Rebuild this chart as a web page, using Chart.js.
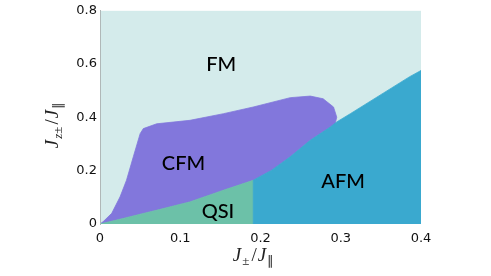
<!DOCTYPE html>
<html lang="en">
<head>
    <meta charset="UTF-8">
    <script src="https://cdn.jsdelivr.net/npm/chart.js"></script>
    <style>
        html, body { margin: 0; padding: 0; background: #fff; }
        #wrap { width: 491px; height: 276px; }
    </style>
</head>
<body>
    <div id="wrap"><canvas id="chart"></canvas></div>

    <script>
        // axis ticks
        const xTicks = [0, 0.1, 0.2, 0.3, 0.4];
        const yTicks = [0, 0.2, 0.4, 0.6, 0.8];

        // phase boundaries
        // CFM outer edge: from the origin up the left side, across the top, round the right end
        const cfmEdgeX = [0, 0.004, 0.0146, 0.025, 0.033, 0.0415, 0.05, 0.054, 0.0707, 0.112, 0.154, 0.191, 0.237, 0.262, 0.278, 0.291, 0.295, 0.293];
        const cfmEdgeY = [0, 0.009, 0.040, 0.102, 0.164, 0.252, 0.339, 0.358, 0.376, 0.389, 0.414, 0.439, 0.474, 0.480, 0.470, 0.439, 0.401, 0.376];
        // CFM / QSI edge
        const qsiEdgeX = [0, 0.029, 0.0707, 0.112, 0.154, 0.191];
        const qsiEdgeY = [0, 0.021, 0.052, 0.083, 0.127, 0.164];
        // top edge of AFM
        const afmEdgeX = [0.191, 0.214, 0.237, 0.262, 0.287, 0.295, 0.312, 0.345, 0.386, 0.4];
        const afmEdgeY = [0.164, 0.202, 0.252, 0.314, 0.364, 0.383, 0.414, 0.476, 0.553, 0.576];

        // phase labels
        const phaseNames = ['FM', 'CFM', 'QSI', 'AFM'];
        const labelX = [0.151, 0.104, 0.147, 0.303];
        const labelY = [0.597, 0.225, 0.046, 0.158];

        const colors = { FM: '#d4ebeb', CFM: '#8277dc', QSI: '#6cc1a8', AFM: '#3aa9cf' };

        const pts = (xs, ys) => xs.map((x, i) => ({ x: x, y: ys[i] }));

        // build closed outlines from the edges
        const fmShape = [{ x: 0, y: 0 }, { x: 0, y: 0.8 }, { x: 0.4, y: 0.8 }, { x: 0.4, y: 0 }];
        const cfmShape = pts(cfmEdgeX, cfmEdgeY)
            .concat(pts(afmEdgeX, afmEdgeY).filter(p => p.x < 0.293).reverse())
            .concat(pts(qsiEdgeX, qsiEdgeY).reverse().slice(1));
        const qsiShape = pts(qsiEdgeX, qsiEdgeY).concat([{ x: 0.191, y: 0 }]);
        const afmShape = [{ x: 0.191, y: 0 }].concat(pts(afmEdgeX, afmEdgeY), [{ x: 0.4, y: 0 }]);

        function region(label, data) {
            return {
                label: label,
                data: data,
                backgroundColor: colors[label],
                borderColor: colors[label],
                showLine: false,
                pointRadius: 0,
                pointHoverRadius: 0
            };
        }

        // fill each dataset as a closed polygon, using the points the library placed
        const regionFill = {
            id: 'regionFill',
            beforeDatasetsDraw(chart) {
                const ctx = chart.ctx;
                const a = chart.chartArea;
                ctx.save();
                ctx.beginPath();
                ctx.rect(a.left, a.top, a.right - a.left, a.bottom - a.top);
                ctx.clip();
                chart.data.datasets.forEach((ds, i) => {
                    const meta = chart.getDatasetMeta(i);
                    ctx.beginPath();
                    meta.data.forEach((p, j) => j === 0 ? ctx.moveTo(p.x, p.y) : ctx.lineTo(p.x, p.y));
                    ctx.closePath();
                    ctx.fillStyle = ds.backgroundColor;
                    ctx.fill();
                    ctx.strokeStyle = ds.borderColor;
                    ctx.lineWidth = 0.8;
                    ctx.stroke();
                });
                ctx.restore();
            }
        };

        function drawMath(ctx, parts, cx, cy) {
            const fontFor = p => (p.italic ? 'italic ' : '') + (p.sub ? '13px' : '19px') + ' "Liberation Serif"';
            let w = 0;
            parts.forEach(p => { ctx.font = fontFor(p); w += ctx.measureText(p.t).width + (p.gap || 0); });
            let x = cx - w / 2;
            parts.forEach(p => {
                ctx.font = fontFor(p);
                ctx.fillText(p.t, x, cy + (p.sub ? 4 : 0));
                x += ctx.measureText(p.t).width + (p.gap || 0);
            });
        }

        const labelsPlugin = {
            id: 'labelsPlugin',
            afterDraw(chart) {
                const ctx = chart.ctx;
                const sx = chart.scales.x, sy = chart.scales.y;
                const a = chart.chartArea;
                ctx.save();
                ctx.fillStyle = '#000';
                ctx.textAlign = 'center';
                ctx.textBaseline = 'middle';
                ctx.font = '500 20px Lato';
                phaseNames.forEach((n, i) => {
                    ctx.fillText(n, sx.getPixelForValue(labelX[i]), sy.getPixelForValue(labelY[i]));
                });

                // axis titles
                ctx.textAlign = 'left';
                ctx.textBaseline = 'alphabetic';
                ctx.fillStyle = '#222';
                drawMath(ctx, [
                    { t: 'J', italic: true, gap: 1 },
                    { t: '±', sub: true, gap: 2 },
                    { t: '/', gap: 1 },
                    { t: 'J', italic: true, gap: 1 },
                    { t: '∥', sub: true }
                ], (a.left + a.right) / 2 - 7, 261);

                ctx.translate(58, 125);
                ctx.rotate(-Math.PI / 2);
                drawMath(ctx, [
                    { t: 'J', italic: true, gap: 1 },
                    { t: 'z', sub: true, italic: true },
                    { t: '±', sub: true, gap: 2 },
                    { t: '/', gap: 1 },
                    { t: 'J', italic: true, gap: 1 },
                    { t: '∥', sub: true }
                ], 0, 0);
                ctx.restore();
            }
        };

        const tickFont = { family: '"DejaVu Sans"', size: 13 };

        new Chart(document.getElementById('chart'), {
            type: 'scatter',
            data: {
                datasets: [
                    region('FM', fmShape),
                    region('CFM', cfmShape),
                    region('QSI', qsiShape),
                    region('AFM', afmShape)
                ]
            },
            options: {
                responsive: true,
                maintainAspectRatio: false,
                animation: false,
                events: [],
                layout: { padding: { left: 0, right: 70, top: 10, bottom: 0 } },
                plugins: {
                    legend: { display: false },
                    tooltip: { enabled: false }
                },
                scales: {
                    x: {
                        type: 'linear',
                        min: 0,
                        max: 0.4,
                        afterBuildTicks: s => { s.ticks = xTicks.map(v => ({ value: v })); },
                        afterFit: s => { s.height = 52; },
                        grid: { display: false, drawTicks: false },
                        border: { display: false },
                        ticks: {
                            padding: 7,
                            color: '#111',
                            font: tickFont,
                            callback: v => String(v)
                        }
                    },
                    y: {
                        type: 'linear',
                        min: 0,
                        max: 0.8,
                        afterBuildTicks: s => { s.ticks = yTicks.map(v => ({ value: v })); },
                        afterFit: s => { s.width = 100; },
                        grid: { display: false, drawTicks: false },
                        border: { display: true, color: '#b0b8b8', width: 1, z: 1 },
                        ticks: {
                            padding: 3,
                            color: '#111',
                            font: tickFont,
                            callback: v => String(v)
                        }
                    }
                }
            },
            plugins: [regionFill, labelsPlugin]
        });
    </script>
</body>
</html>
